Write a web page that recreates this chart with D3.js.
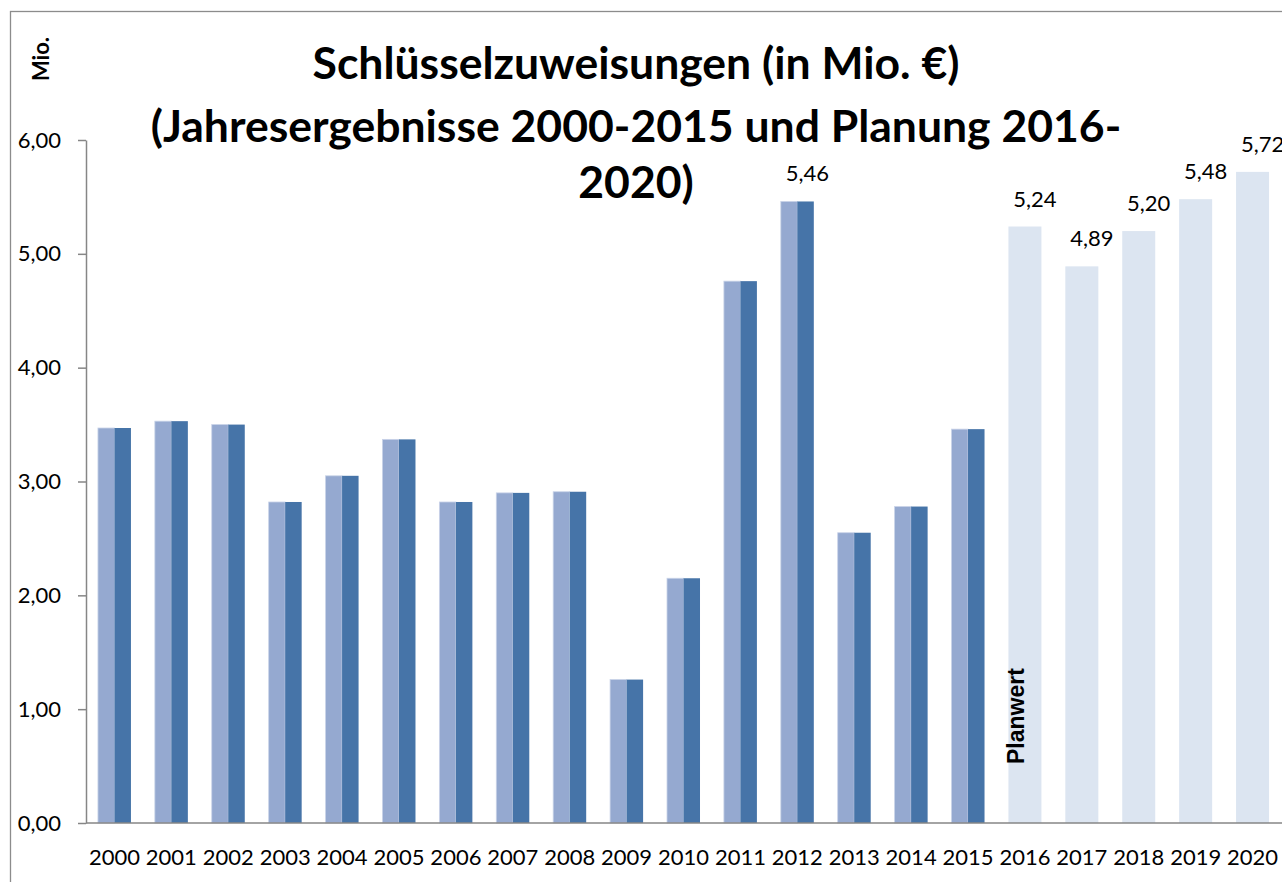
<!DOCTYPE html>
<html>
<head>
<meta charset="utf-8">
<script src="https://cdn.jsdelivr.net/npm/d3@7"></script>
<style>
  body { margin: 0; background: #fff; }
  svg text { font-family: Lato, "Open Sans", sans-serif; fill: #000; }
</style>
</head>
<body>
<div id="chart"></div>
<script>
var years = ['2000','2001','2002','2003','2004','2005','2006','2007','2008','2009','2010',
             '2011','2012','2013','2014','2015','2016','2017','2018','2019','2020'];
// Jahresergebnisse 2000-2015
var istYears = years.slice(0, 16);
var istValues = [3.47, 3.53, 3.50, 2.82, 3.05, 3.37, 2.82, 2.90, 2.91, 1.26, 2.15,
                 4.76, 5.46, 2.55, 2.78, 3.46];
// Planung 2016-2020
var planYears = years.slice(16);
var planValues = [5.24, 4.89, 5.20, 5.48, 5.72];
var labelledYears = ['2012', '2016', '2017', '2018', '2019', '2020'];
var yTicks = [0, 1, 2, 3, 4, 5, 6];
var titleLines = ['Schlüsselzuweisungen (in Mio. €)',
                  '(Jahresergebnisse 2000-2015 und Planung 2016-',
                  '2020)'];

var width = 1282;
var height = 882;
var plotLeft = 86, plotRight = 1281, plotTop = 140, plotBottom = 823;

var fmt = d3.formatLocale({ decimal: ',', thousands: '.', grouping: [3], currency: ['', '€'] }).format('.2f');

var svg = d3.select('#chart')
  .append('svg')
  .attr('width', width)
  .attr('height', height);

// chart border
svg.append('rect')
  .attr('x', 10.5).attr('y', 11.5)
  .attr('width', 1290).attr('height', 900)
  .attr('fill', 'none')
  .attr('stroke', '#8c8c8c')
  .attr('stroke-width', 1.3);

var x = d3.scaleBand()
  .domain(years)
  .range([plotLeft, plotRight])
  .paddingInner(0.42)
  .paddingOuter(0.21);

var y = d3.scaleLinear()
  .domain([0, 6])
  .range([plotBottom, plotTop]);

var bw = x.bandwidth();

// historical bars: light left half, dark right half
var ist = svg.append('g');
ist.selectAll('rect.light')
  .data(istValues)
  .enter()
  .append('rect')
  .attr('class', 'light')
  .attr('x', function(d, i) { return x(istYears[i]); })
  .attr('y', function(d) { return y(d); })
  .attr('width', bw / 2)
  .attr('height', function(d) { return y(0) - y(d); })
  .attr('fill', '#95a9d0')
  .attr('stroke', '#c9d3e8')
  .attr('stroke-width', 0.8);
ist.selectAll('rect.dark')
  .data(istValues)
  .enter()
  .append('rect')
  .attr('class', 'dark')
  .attr('x', function(d, i) { return x(istYears[i]) + bw / 2; })
  .attr('y', function(d) { return y(d); })
  .attr('width', bw / 2)
  .attr('height', function(d) { return y(0) - y(d); })
  .attr('fill', '#4674a8');

// planned bars
svg.append('g').selectAll('rect')
  .data(planValues)
  .enter()
  .append('rect')
  .attr('x', function(d, i) { return x(planYears[i]); })
  .attr('y', function(d) { return y(d); })
  .attr('width', bw)
  .attr('height', function(d) { return y(0) - y(d); })
  .attr('fill', '#dce5f1');

// value labels
var allValues = istValues.concat(planValues);
svg.append('g').selectAll('text')
  .data(years.filter(function(yr) { return labelledYears.indexOf(yr) >= 0; }))
  .enter()
  .append('text')
  .attr('x', function(yr) { return x(yr) + bw / 2 + 10; })
  .attr('y', function(yr) { return y(allValues[years.indexOf(yr)]) - 20; })
  .attr('text-anchor', 'middle')
  .style('font-size', '22px')
  .text(function(yr) { return fmt(allValues[years.indexOf(yr)]); });

// axes
var yAxis = svg.append('g')
  .attr('transform', 'translate(' + plotLeft + ',0)')
  .call(d3.axisLeft(y).tickValues(yTicks).tickFormat(fmt).tickSize(8).tickSizeOuter(0).tickPadding(17));
yAxis.selectAll('text').style('font-size', '22px');

var xAxis = svg.append('g')
  .attr('transform', 'translate(0,' + plotBottom + ')')
  .call(d3.axisBottom(x).tickSize(0).tickPadding(26));
xAxis.selectAll('text').style('font-size', '22px');
xAxis.select('.domain').attr('d', 'M' + plotLeft + ',0H' + width);

svg.selectAll('.domain, .tick line')
  .attr('stroke', '#868686')
  .attr('stroke-width', 1.5);

// Planwert note
svg.append('text')
  .attr('transform', 'translate(' + (x('2016') + 16) + ',764) rotate(-90)')
  .style('font-family', '"Liberation Sans", Arial, sans-serif')
  .style('font-weight', 'bold')
  .style('font-size', '23px')
  .text('Planwert');

// unit label
svg.append('text')
  .attr('transform', 'translate(49,59) rotate(-90)')
  .attr('text-anchor', 'middle')
  .style('font-weight', 'bold')
  .style('font-size', '22px')
  .text('Mio.');

// title
var titleY = [79, 142, 198];
svg.append('g').selectAll('text')
  .data(titleLines)
  .enter()
  .append('text')
  .attr('x', 636)
  .attr('y', function(d, i) { return titleY[i]; })
  .attr('text-anchor', 'middle')
  .style('font-weight', 'bold')
  .style('font-size', '44.5px')
  .text(function(d) { return d; });
</script>
</body>
</html>
